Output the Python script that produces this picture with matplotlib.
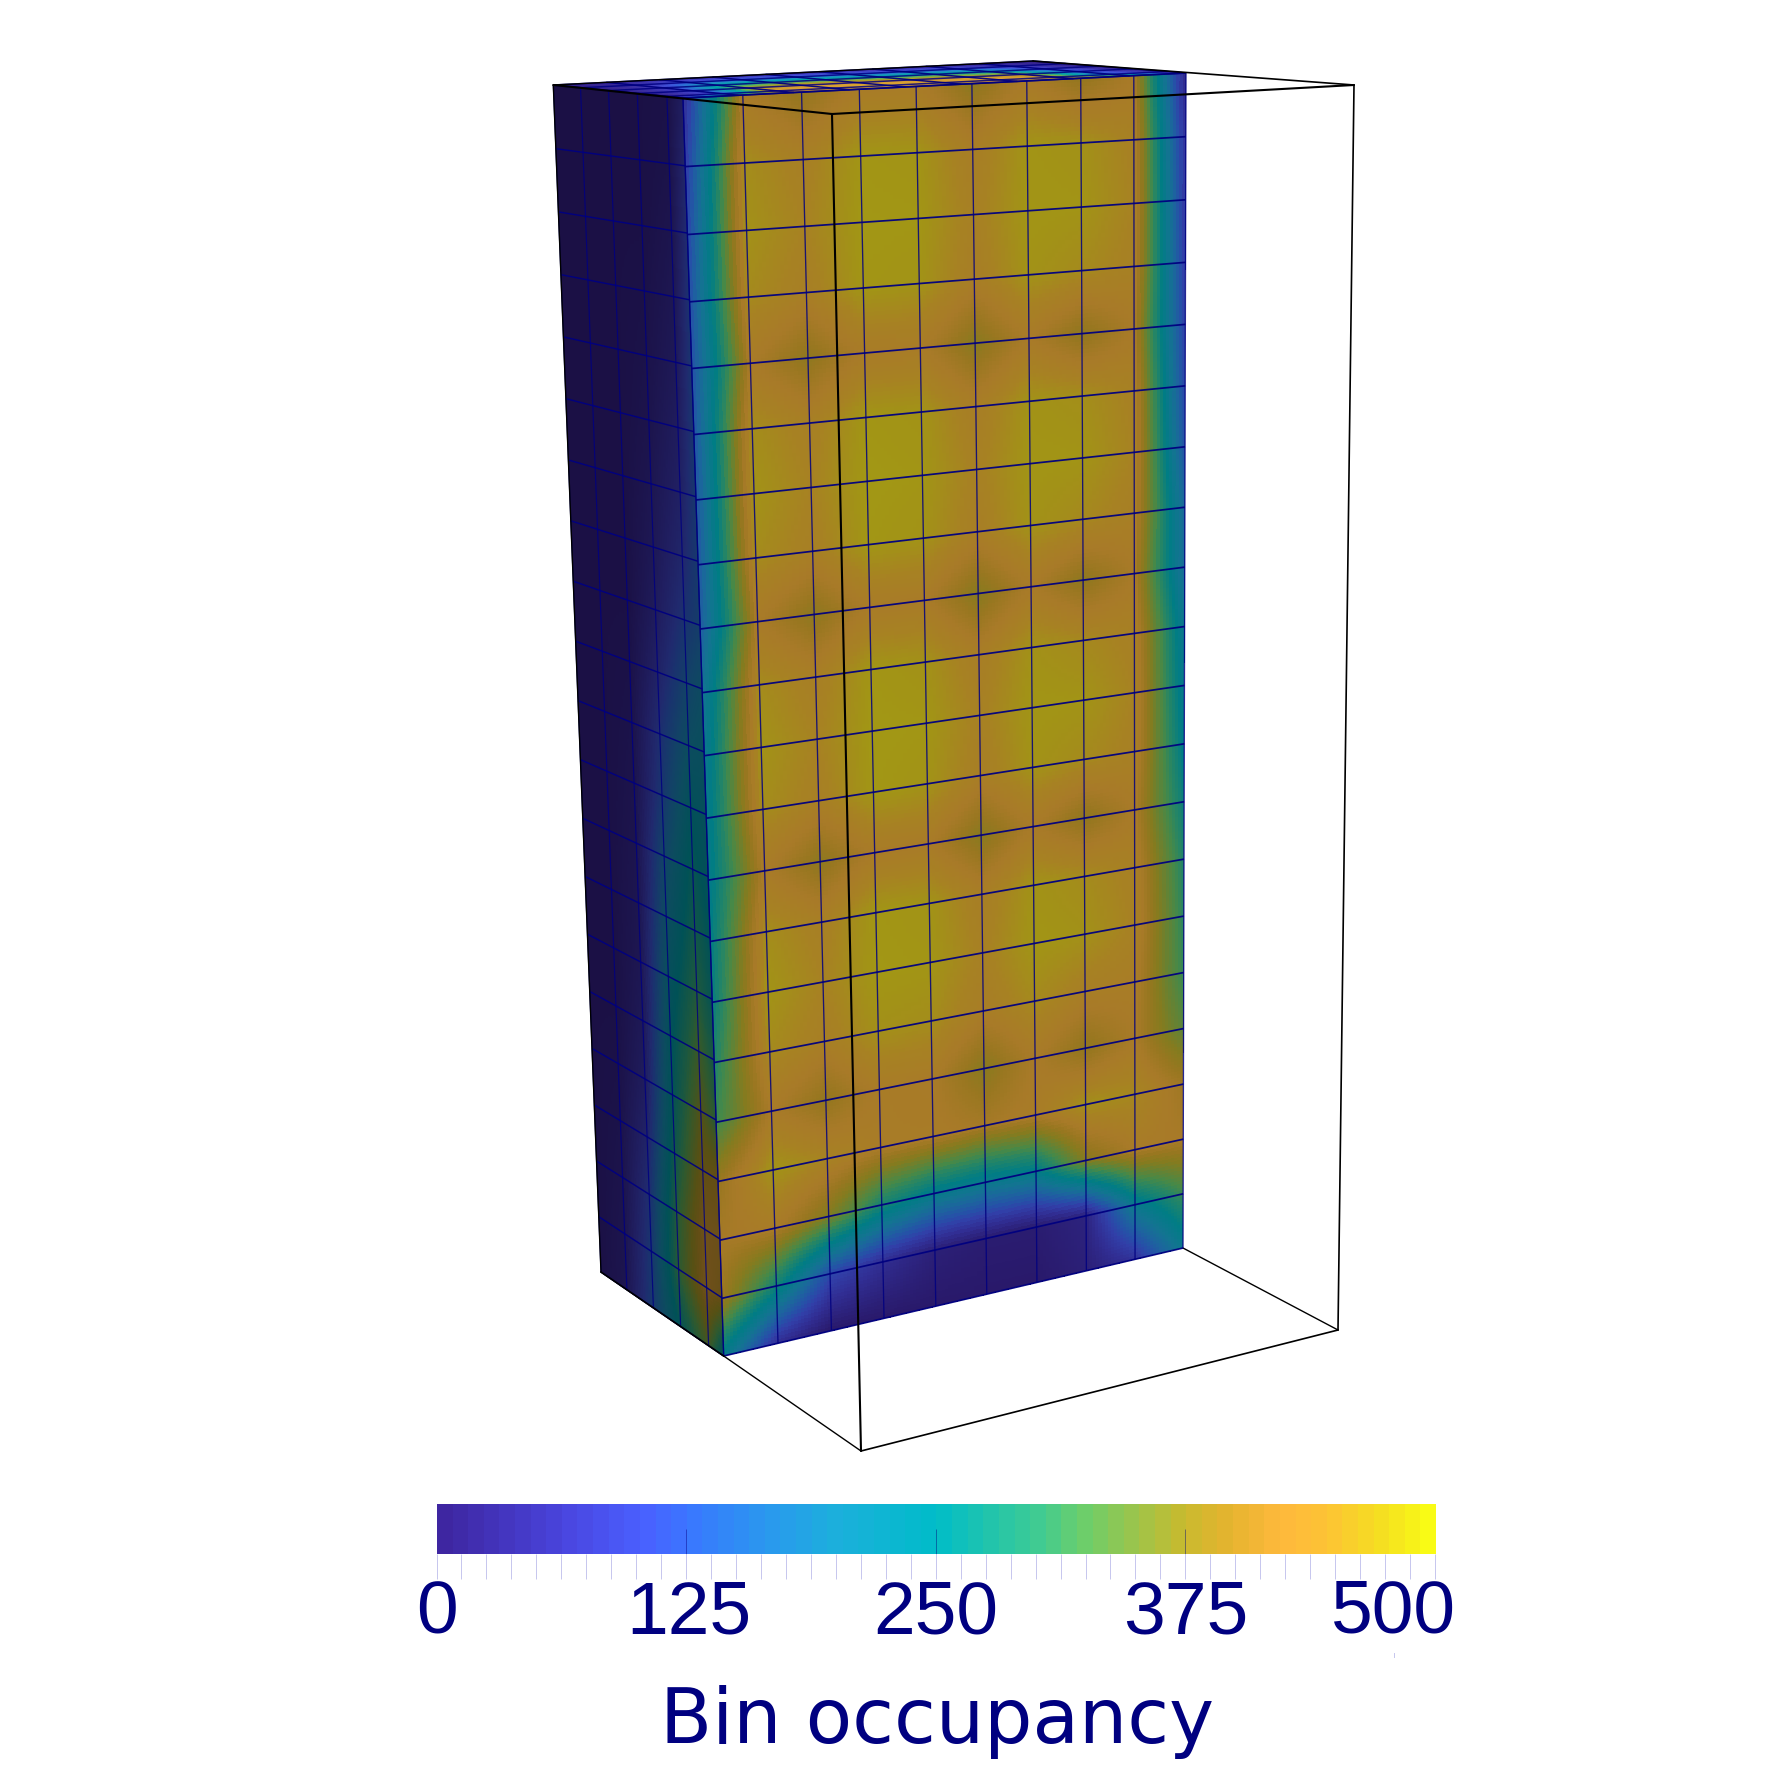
import numpy as np
import matplotlib
matplotlib.use("Agg")
import matplotlib.pyplot as plt
from matplotlib.colors import LinearSegmentedColormap, Normalize

# ---------- data ----------
FRONT_VALUES = [
    [ 60,428,392,430,432,385,428,392,425, 40],
    [ 90,466,442,478,476,436,476,472,446, 70],
    [110,472,450,480,479,444,478,476,450, 80],
    [125,462,440,478,475,436,474,462,444, 90],
    [130,426,388,428,430,380,426,388,425,100],
    [135,466,442,478,474,436,474,468,446,110],
    [135,474,450,481,478,446,478,476,450,130],
    [140,464,442,479,474,438,474,460,440,170],
    [150,426,386,428,428,378,426,386,424,175],
    [195,464,440,478,472,436,472,460,444,215],
    [215,474,450,481,479,446,478,476,450,225],
    [225,466,442,480,475,438,474,462,444,240],
    [235,428,386,428,428,380,426,388,426,265],
    [250,466,442,479,475,438,474,464,444,290],
    [260,476,450,480,478,446,478,472,448,300],
    [290,462,440,470,466,434,462,440,434,310],
    [315,426,392,430,428,380,426,390,424,340],
    [400,476,452,430,430,420,432,470,458,410],
    [420,430,372,282,236,225,245,378,428,424],
    [405,275,115, 60, 20, 10, 10, 30,225,315],
    [235, 60,  0,  0,  0,  0,  0, 20, 70,220],
]
LEFT_DEPTH = [0, 1, 2, 3, 4, 4.53]
LEFT_VALUES = [
    [0, 0,  0,  0,  5],
    [0, 0,  0,  0, 10],
    [0, 0,  0,  0, 20],
    [0, 0,  0,  5, 30],
    [0, 0,  0, 10, 40],
    [0, 0,  0, 15, 55],
    [0, 0,  0, 25, 70],
    [0, 0,  0, 35, 90],
    [0, 0,  0, 50,120],
    [0, 0,  5, 75,160],
    [0, 0, 10,110,200],
    [0, 0, 15,130,240],
    [0, 0, 20,170,265],
    [0, 0, 25,195,285],
    [0, 0, 30,220,310],
    [0, 0, 40,240,340],
    [0, 5, 55,255,370],
    [0,10, 80,280,395],
    [0,15,110,310,425],
    [0,20,130,320,430],
    [0,25,140,260,350],
]
TOP_VALUES = [
    [0, 10, 20, 30, 30, 30, 20, 20, 10, 0],
    [0, 30,110,130,130,120,120,110, 50, 0],
    [0, 60,250,300,300,280,280,250,100, 0],
    [0, 80,380,420,430,410,410,380,130, 0],
    [0, 90,430,440,450,430,440,420,140,20],
]
CBAR_MAJOR = [0, 125, 250, 375, 500]
CBAR_LABELS = ["0", "125", "250", "375", "500"]
CBAR_INNER = [125, 250, 375]
CBAR_TITLE = "Bin occupancy"
CBAR_RANGE = (0, 500)
CMAP_VALUES = [0, 62, 100, 125, 165, 200, 250, 300, 325, 375, 400, 425, 450, 475, 500]
CMAP_COLORS = ["#3e26a1", "#4a46e0", "#4a60ff", "#3a78ff", "#2a9aee", "#1cb0dc", "#00bdc9",
               "#3ecb95", "#6ccf6c", "#c8bb2f", "#e6b430", "#ffb93d", "#fdc435", "#f5de22", "#f9fb15"]

# ---------- view geometry (image corners of the faces) ----------
F_TL, F_TR, F_BR, F_BL = (683, 98), (1186, 73), (1183, 1248), (723.7, 1356)
L_TL, L_BL = (553.3, 85), (601, 1272)
T_BK_R = (1033, 61)
B_NT, B_NB, B_RT, B_RB = (832, 114), (861, 1451), (1354, 85), (1338, 1330)
SUB = 16
NAVY = "#000080"


def homography(corners):
    src = [(0, 0), (1, 0), (1, 1), (0, 1)]
    A, b = [], []
    for (u, v), (x, y) in zip(src, corners):
        A.append([u, v, 1, 0, 0, 0, -u * x, -v * x]); b.append(x)
        A.append([0, 0, 0, u, v, 1, -u * y, -v * y]); b.append(y)
    h = np.linalg.solve(np.array(A, float), np.array(b, float))
    return np.append(h, 1).reshape(3, 3)


def project(H, u, v):
    w = H[2, 0] * u + H[2, 1] * v + H[2, 2]
    return (H[0, 0] * u + H[0, 1] * v + H[0, 2]) / w, (H[1, 0] * u + H[1, 1] * v + H[1, 2]) / w


def cmap_for(shade):
    cols = [tuple(c * shade for c in matplotlib.colors.to_rgb(h)) for h in CMAP_COLORS]
    pos = [(v - CBAR_RANGE[0]) / (CBAR_RANGE[1] - CBAR_RANGE[0]) for v in CMAP_VALUES]
    return LinearSegmentedColormap.from_list("occ", list(zip(pos, cols)), N=512)


def resample(values, un, vn, uf, vf):
    a = np.array([np.interp(uf, un, row) for row in values])
    return np.array([np.interp(vf, vn, a[:, j]) for j in range(a.shape[1])]).T


def draw_face(ax, values, un, vn, corners, shade, lw_u, lw_v):
    H = homography(corners)
    un, vn = np.asarray(un, float), np.asarray(vn, float)
    ue = np.concatenate([np.linspace(un[i], un[i + 1], SUB, endpoint=False) for i in range(len(un) - 1)] + [[un[-1]]])
    ve = np.concatenate([np.linspace(vn[i], vn[i + 1], SUB, endpoint=False) for i in range(len(vn) - 1)] + [[vn[-1]]])
    uc, vc = (ue[:-1] + ue[1:]) / 2, (ve[:-1] + ve[1:]) / 2
    UU, VV = np.meshgrid(ue, ve)
    X, Y = project(H, UU, VV)
    C = resample(values, un, vn, uc, vc)
    ax.pcolormesh(X, Y, C, cmap=cmap_for(shade), norm=Normalize(*CBAR_RANGE),
                  shading="flat", antialiased=False, linewidth=0, zorder=2)
    for u in un:
        x, y = project(H, np.array([u, u]), np.array([0.0, 1.0]))
        ax.plot(x, y, color=NAVY, lw=lw_u, alpha=0.85, zorder=3, solid_capstyle="butt")
    for v in vn:
        x, y = project(H, np.array([0.0, 1.0]), np.array([v, v]))
        ax.plot(x, y, color=NAVY, lw=lw_v, alpha=0.95, zorder=3, solid_capstyle="butt")


fig = plt.figure(figsize=(17.72, 17.72), dpi=100, facecolor="white")
ax = fig.add_axes([0, 0, 1, 1])
ax.set_xlim(0, 1772)
ax.set_ylim(1772, 0)
ax.axis("off")

front = np.array(FRONT_VALUES, float)
left = np.column_stack([np.array(LEFT_VALUES, float), front[:, 0]])
top = np.vstack([np.array(TOP_VALUES, float), front[0]])

rows_v = np.arange(front.shape[0]) / (front.shape[0] - 1)
cols_u = np.arange(front.shape[1]) / (front.shape[1] - 1)
depth_u = np.array(LEFT_DEPTH) / LEFT_DEPTH[-1]

for p, q in [(B_RB, F_BR), (L_BL, F_BL)]:
    ax.plot([p[0], q[0]], [p[1], q[1]], color="black", lw=1.0, zorder=1)

draw_face(ax, left, depth_u, rows_v, [L_TL, F_TL, F_BL, L_BL], 0.43, 0.85, 1.05)
draw_face(ax, front, cols_u, rows_v, [F_TL, F_TR, F_BR, F_BL], 0.66, 0.95, 1.25)
draw_face(ax, top.T, depth_u, cols_u, [L_TL, F_TL, F_TR, T_BK_R], 0.85, 1.1, 1.1)

for p, q, lw in [(L_TL, B_NT, 1.5), (B_NT, B_RT, 1.5), (B_RT, T_BK_R, 1.2), (T_BK_R, L_TL, 1.0),
                 (B_NT, B_NB, 1.5), (B_NB, B_RB, 1.2), (B_RB, B_RT, 1.2), (B_NB, F_BL, 1.0),
                 (L_TL, L_BL, 1.0), (L_BL, F_BL, 1.2)]:
    ax.plot([p[0], q[0]], [p[1], q[1]], color="black", lw=lw, zorder=4, solid_capstyle="round")

# colour bar
cax = fig.add_axes([436.5 / 1772, 1 - 1553.5 / 1772, 998.5 / 1772, 49.5 / 1772])
grad = np.linspace(CBAR_RANGE[0], CBAR_RANGE[1], 64)[None, :]
cax.imshow(grad, extent=[CBAR_RANGE[0], CBAR_RANGE[1], 0, 1], aspect="auto",
           cmap=cmap_for(1.0), norm=Normalize(*CBAR_RANGE), interpolation="nearest")
for s in cax.spines.values():
    s.set_visible(False)
cax.set_yticks([])
cax.set_xticks(CBAR_INNER)
cax.set_xticklabels([])
cax.tick_params(axis="x", which="major", direction="in", length=18, width=0.7, color="#00008070")
cax.xaxis.remove_overlapping_locs = False
cax.set_xticks(np.arange(CBAR_RANGE[0], CBAR_RANGE[1] + 1, 12.5), minor=True)
cax.tick_params(axis="x", which="minor", direction="out", length=18, width=0.7, color="#c6c6ee")

dx = [0, 3, 0, 0, -42]
dy = [0, 0, 0, 0, 1.3]
for v, lab, ox, oy in zip(CBAR_MAJOR, CBAR_LABELS, dx, dy):
    cax.annotate(lab, xy=(v, 0), xycoords=cax.get_xaxis_transform(),
                 xytext=(ox * 0.72, -(1634 - 1553.5 - oy) * 0.72), textcoords="offset points",
                 ha="center", va="baseline", color=NAVY, fontsize=54, family="Liberation Sans")
ax.text(937, 1743, CBAR_TITLE, ha="center", va="baseline", color=NAVY, fontsize=54.7,
        family="DejaVu Sans", zorder=5)
ax.plot([1394, 1394], [1653, 1657], color="#c6c6ee", lw=0.7)

fig.savefig("out.png", dpi=100, facecolor="white")
